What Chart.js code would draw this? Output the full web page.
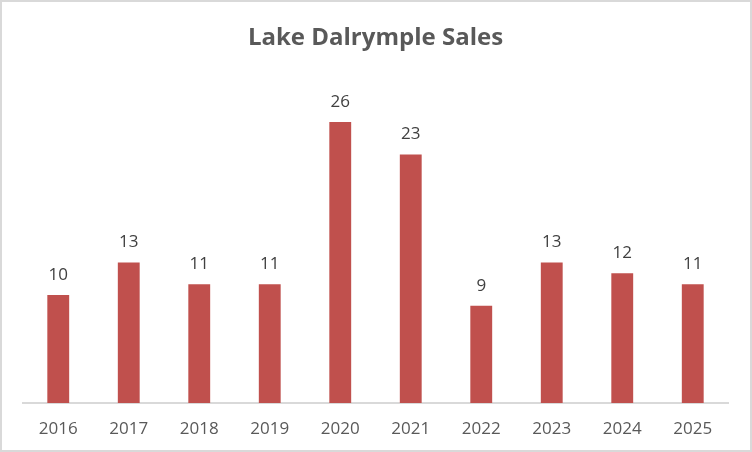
<!DOCTYPE html>
<html>
<head>
<meta charset="utf-8">
<script src="https://cdn.jsdelivr.net/npm/chart.js@4"></script>
<style>
  html, body { margin: 0; padding: 0; background: #fff; }
  #wrap { position: relative; width: 752px; height: 452px; }
</style>
</head>
<body>
<div id="wrap"><canvas id="chart" width="752" height="452"></canvas></div>
<script>
// Данные графика
const years = ['2016', '2017', '2018', '2019', '2020', '2021', '2022', '2023', '2024', '2025'];
const sales = [10, 13, 11, 11, 26, 23, 9, 13, 12, 11];
const chartTitle = 'Lake Dalrymple Sales';

const fontFamily = '"Open Sans", "Liberation Sans", sans-serif';

// Рамка вокруг всего графика
const borderPlugin = {
  id: 'chartBorder',
  afterDraw(chart) {
    const ctx = chart.ctx;
    ctx.save();
    ctx.strokeStyle = '#d9d9d9';
    ctx.lineWidth = 2;
    ctx.strokeRect(1, 1, chart.width - 2, chart.height - 2);
    ctx.restore();
  }
};

// Подписи значений над столбцами
const valueLabels = {
  id: 'valueLabels',
  afterDatasetsDraw(chart) {
    const ctx = chart.ctx;
    const meta = chart.getDatasetMeta(0);
    ctx.save();
    ctx.font = '17px ' + fontFamily;
    ctx.fillStyle = '#404040';
    ctx.textAlign = 'center';
    ctx.textBaseline = 'middle';
    meta.data.forEach((bar, i) => {
      ctx.fillText(String(sales[i]), bar.x, bar.y - 20);
    });
    ctx.restore();
  }
};

new Chart(document.getElementById('chart'), {
  type: 'bar',
  data: {
    labels: years,
    datasets: [{
      data: sales,
      backgroundColor: '#c0504d',
      categoryPercentage: 1,
      barPercentage: 0.31
    }]
  },
  options: {
    responsive: false,
    animation: false,
    layout: { padding: { left: 23, right: 24, top: 0, bottom: 0 } },
    plugins: {
      legend: { display: false },
      tooltip: { enabled: false },
      title: {
        display: true,
        text: chartTitle,
        color: '#595959',
        font: { family: fontFamily, size: 24, weight: 'bold' },
        padding: { top: 24, bottom: 26 }
      }
    },
    scales: {
      x: {
        grid: { display: false, drawTicks: false },
        border: { display: true, color: '#d9d9d9', width: 2 },
        ticks: { color: '#595959', font: { family: fontFamily, size: 17 }, padding: 16 },
        afterFit(scale) { scale.height = 49; }
      },
      y: {
        display: false,
        min: 0,
        max: 30
      }
    }
  },
  plugins: [borderPlugin, valueLabels]
});
</script>
</body>
</html>
